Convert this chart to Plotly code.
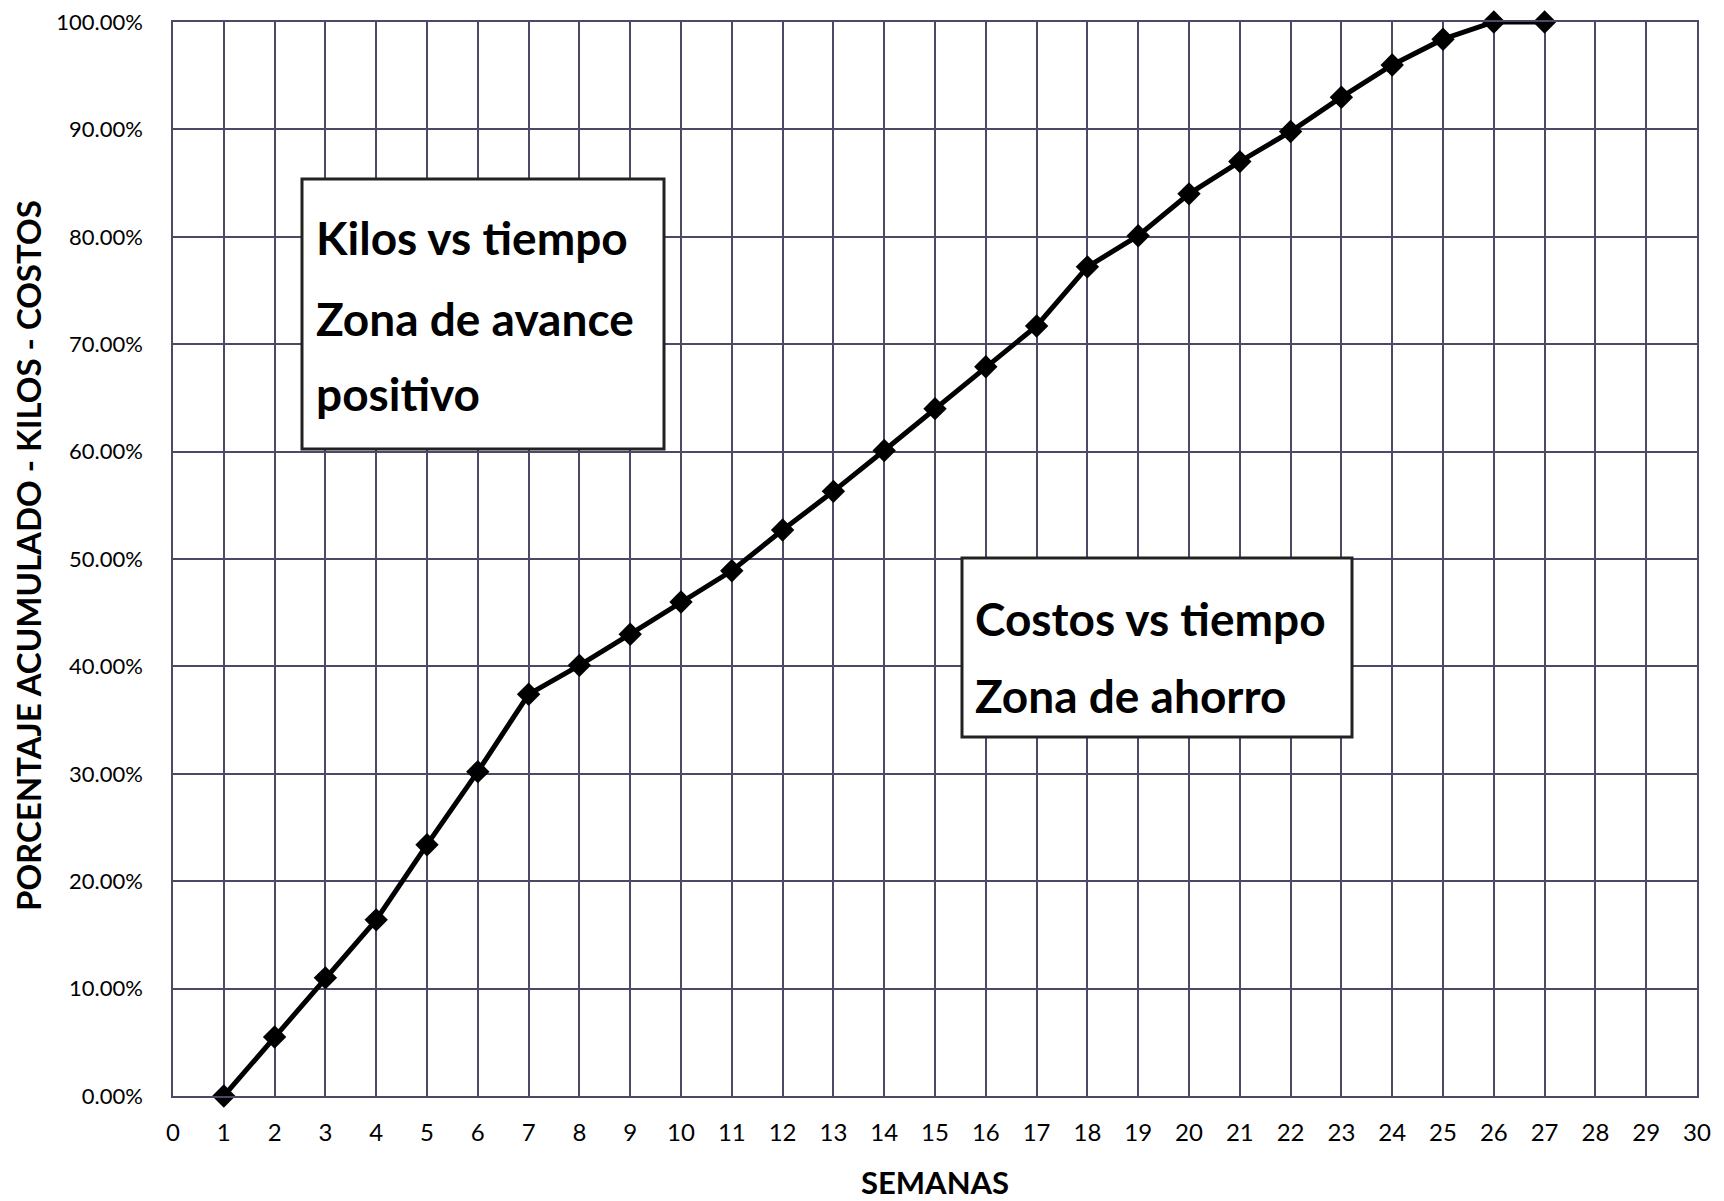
import plotly.graph_objects as go

semanas = list(range(1, 28))
porcentaje = [0.0, 5.5, 11.0, 16.4, 23.4, 30.2, 37.4, 40.1, 43.0, 46.0,
              48.9, 52.7, 56.3, 60.1, 64.0, 67.9, 71.7, 77.2, 80.1, 84.0,
              87.0, 89.8, 93.0, 96.0, 98.4, 100.0, 100.0]
porcentaje = [v / 100 for v in porcentaje]

x_ticks = list(range(0, 31))
y_ticks = [i / 10 for i in range(0, 11)]

box1_lines = ["Kilos vs tiempo", "Zona de avance", "positivo"]
box2_lines = ["Costos vs tiempo", "Zona de ahorro"]

FONT = "Lato"
GRID = "#4a4966"

# page body has an 8px margin; the figure is sized to fill the rest of the window
OFF = 8
W, H = 1724 - OFF, 1201 - OFF
# target plot area in window pixels: left 173, right 1697, top 22, bottom 1096
ml, mt = 173 - OFF, 22 - OFF
mr, mb = W - (1697 - OFF), H - (1096 - OFF)

fig = go.Figure()
fig.add_trace(go.Scatter(
    x=semanas, y=porcentaje, mode="lines+markers",
    line=dict(color="black", width=5),
    marker=dict(symbol="diamond", size=18, color="black"),
    showlegend=False, cliponaxis=False,
))

fig.update_layout(
    width=W, height=H,
    margin=dict(l=ml, r=mr, t=mt, b=mb, autoexpand=False),
    paper_bgcolor="white", plot_bgcolor="white",
    font=dict(family=FONT, color="black", size=22),
)
fig.update_xaxes(
    range=[0, 30], tickvals=x_ticks, ticktext=[str(v) for v in x_ticks],
    showgrid=True, gridcolor=GRID, gridwidth=1.5,
    showline=True, linecolor=GRID, linewidth=1.5, mirror=True,
    zeroline=False, ticks="", ticklabelstandoff=14,
    ticklabeloverflow="allow", automargin=False,
    tickfont=dict(family=FONT, size=24, color="black"),
)
fig.update_yaxes(
    range=[0, 1], tickvals=y_ticks, tickformat=".2%",
    showgrid=True, gridcolor=GRID, gridwidth=1.5,
    showline=True, linecolor=GRID, linewidth=1.5, mirror=True,
    zeroline=False, ticks="", ticklabelstandoff=24,
    ticklabeloverflow="allow", automargin=False,
    tickfont=dict(family=FONT, size=22, color="black"),
)


def px2paper_x(px):
    return (px - OFF - ml) / (W - ml - mr)


def px2paper_y(py):
    return (H - mb - (py - OFF)) / (H - mt - mb)


# Axis titles
fig.add_annotation(text="<b>SEMANAS</b>", xref="paper", yref="paper",
                   x=px2paper_x(935), y=px2paper_y(1182),
                   showarrow=False, font=dict(family=FONT, size=31, color="black"),
                   xanchor="center", yanchor="middle")
fig.add_annotation(text="<b>PORCENTAJE ACUMULADO - KILOS - COSTOS</b>", xref="paper", yref="paper",
                   x=px2paper_x(28), y=px2paper_y(556),
                   textangle=-90, showarrow=False,
                   font=dict(family=FONT, size=33, color="black"),
                   xanchor="center", yanchor="middle")

# Text boxes
boxes = [
    ((302, 179, 664, 449), box1_lines, 314, [237, 318, 394]),
    ((962, 558, 1352, 737), box2_lines, 973, [618, 695]),
]
for (x0, y0, x1, y1), lines, tx, tys in boxes:
    fig.add_shape(type="rect", xref="paper", yref="paper",
                  x0=px2paper_x(x0), x1=px2paper_x(x1),
                  y0=px2paper_y(y1), y1=px2paper_y(y0),
                  line=dict(color="#222222", width=3), fillcolor="white", layer="above")
    for line, ty in zip(lines, tys):
        fig.add_annotation(text=f"<b>{line}</b>", xref="paper", yref="paper",
                           x=px2paper_x(tx), y=px2paper_y(ty),
                           xanchor="left", yanchor="middle", showarrow=False,
                           font=dict(family=FONT, size=46, color="black"))

fig.write_html("out.html")
